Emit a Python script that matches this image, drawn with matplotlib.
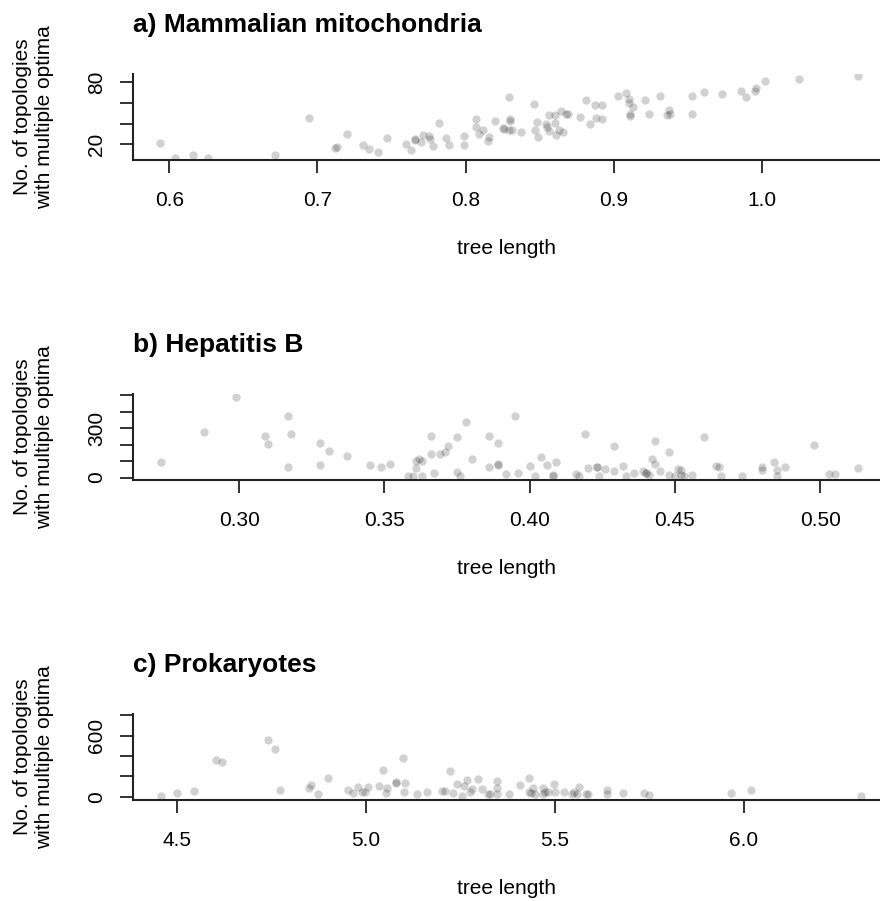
import numpy as np
import matplotlib
matplotlib.use('Agg')
import matplotlib.pyplot as plt

plt.rcParams['font.family'] = ['Liberation Sans', 'DejaVu Sans']

# tree length vs number of topologies with multiple optima ==========================
mito_len = [0.594, 0.604, 0.616, 0.626, 0.671, 0.694, 0.712, 0.713, 0.720, 0.731,
            0.735, 0.741, 0.747, 0.760, 0.763, 0.766, 0.766, 0.770, 0.771, 0.775,
            0.776, 0.778, 0.782, 0.787, 0.789, 0.799, 0.799, 0.807, 0.807, 0.809,
            0.812, 0.815, 0.816, 0.820, 0.825, 0.826, 0.829, 0.830, 0.830, 0.831,
            0.829, 0.837, 0.846, 0.848, 0.847, 0.849, 0.854, 0.855, 0.856, 0.856,
            0.860, 0.860, 0.861, 0.863, 0.864, 0.866, 0.868, 0.869, 0.877, 0.881,
            0.884, 0.887, 0.888, 0.892, 0.892, 0.903, 0.908, 0.910, 0.910, 0.913,
            0.911, 0.911, 0.921, 0.924, 0.931, 0.936, 0.937, 0.938, 0.953, 0.953,
            0.961, 0.973, 0.986, 0.989, 0.995, 0.996, 1.002, 1.025, 1.065]
mito_topo = [21, 7, 10, 7, 10, 45, 16, 17, 30, 19,
             15, 13, 26, 20, 14, 24, 25, 22, 29, 28,
             25, 18, 41, 26, 19, 28, 19, 44, 37, 30,
             34, 23, 27, 43, 36, 35, 66, 44, 43, 34,
             34, 32, 59, 42, 34, 27, 40, 37, 33, 48,
             41, 48, 29, 34, 52, 32, 49, 49, 46, 63,
             40, 58, 45, 58, 44, 67, 70, 64, 60, 56,
             49, 47, 63, 49, 67, 48, 53, 49, 49, 67,
             71, 69, 72, 66, 72, 74, 81, 83, 86]

hepb_len = [0.273, 0.288, 0.299, 0.309, 0.310, 0.317, 0.318, 0.317, 0.328, 0.328,
            0.331, 0.337, 0.345, 0.349, 0.352, 0.358, 0.360, 0.361, 0.361, 0.362,
            0.363, 0.363, 0.366, 0.366, 0.367, 0.369, 0.371, 0.372, 0.375, 0.375,
            0.376, 0.378, 0.380, 0.386, 0.386, 0.389, 0.389, 0.389, 0.392, 0.395,
            0.396, 0.400, 0.402, 0.404, 0.406, 0.408, 0.408, 0.409, 0.416, 0.417,
            0.419, 0.420, 0.423, 0.423, 0.424, 0.426, 0.429, 0.429, 0.432, 0.433,
            0.436, 0.439, 0.440, 0.440, 0.441, 0.442, 0.443, 0.443, 0.445, 0.448,
            0.448, 0.450, 0.451, 0.452, 0.453, 0.452, 0.456, 0.460, 0.464, 0.465,
            0.466, 0.473, 0.480, 0.480, 0.484, 0.485, 0.485, 0.488, 0.498, 0.503,
            0.505, 0.513]
hepb_topo = [94, 275, 488, 253, 205, 376, 263, 66, 211, 76,
             163, 129, 78, 66, 82, 8, 12, 56, 100, 116,
             100, 8, 255, 141, 30, 145, 155, 193, 247, 34,
             8, 339, 114, 255, 66, 209, 82, 78, 22, 375,
             28, 72, 10, 127, 76, 12, 14, 94, 24, 12,
             267, 60, 66, 64, 12, 52, 38, 191, 72, 12,
             26, 38, 26, 28, 18, 112, 80, 225, 42, 14,
             155, 10, 52, 48, 12, 18, 18, 245, 70, 64,
             12, 12, 62, 48, 92, 46, 12, 66, 197, 22,
             20, 60]

prok_len = [4.458, 4.501, 4.545, 4.603, 4.618, 4.740, 4.758, 4.773, 4.849, 4.855,
            4.872, 4.899, 4.953, 4.966, 4.978, 4.990, 4.996, 5.004, 5.035, 5.044,
            5.053, 5.055, 5.078, 5.079, 5.097, 5.103, 5.101, 5.134, 5.161, 5.201,
            5.209, 5.222, 5.229, 5.240, 5.253, 5.258, 5.268, 5.275, 5.280, 5.295,
            5.306, 5.324, 5.328, 5.346, 5.346, 5.346, 5.378, 5.407, 5.430, 5.430,
            5.436, 5.443, 5.447, 5.467, 5.469, 5.474, 5.482, 5.497, 5.500, 5.525,
            5.544, 5.550, 5.563, 5.557, 5.583, 5.587, 5.637, 5.637, 5.681, 5.736,
            5.749, 5.966, 6.019, 6.310]
prok_topo = [10, 39, 61, 361, 345, 561, 471, 65, 87, 119,
             29, 184, 68, 42, 100, 45, 45, 100, 106, 265,
             42, 84, 142, 132, 377, 132, 45, 23, 45, 61,
             61, 258, 42, 129, 6, 103, 165, 45, 81, 177,
             81, 29, 29, 152, 84, 29, 26, 116, 181, 52,
             39, 84, 29, 87, 29, 45, 52, 126, 45, 52,
             29, 52, 100, 29, 29, 29, 68, 23, 39, 39,
             19, 42, 71, 6]

panels = [
    dict(title='a) Mammalian mitochondria', x=mito_len, y=mito_topo,
         xlim=(0.5755, 1.0789), ylim=(4.8, 88),
         xticks=[0.6, 0.7, 0.8, 0.9, 1.0], xlabels=['0.6', '0.7', '0.8', '0.9', '1.0'],
         yticks=[20, 40, 60, 80], ylabels=['20', '', '', '80'], top=74),
    dict(title='b) Hepatitis B', x=hepb_len, y=hepb_topo,
         xlim=(0.2635, 0.5202), ylim=(-15, 509),
         xticks=[0.30, 0.35, 0.40, 0.45, 0.50], xlabels=['0.30', '0.35', '0.40', '0.45', '0.50'],
         yticks=[0, 100, 200, 300, 400, 500], ylabels=['0', '', '', '300', '', ''], top=394),
    dict(title='c) Prokaryotes', x=prok_len, y=prok_topo,
         xlim=(4.3836, 6.357), ylim=(-31, 812),
         xticks=[4.5, 5.0, 5.5, 6.0], xlabels=['4.5', '5.0', '5.5', '6.0'],
         yticks=[0, 200, 400, 600, 800], ylabels=['0', '', '', '600', ''], top=714),
]

W, H = 880, 901
fig = plt.figure(figsize=(W / 100, H / 100), dpi=100)

axis_col = '#222222'
for p in panels:
    left, right, height = 133, 879, 86
    ax = fig.add_axes([left / W, 1 - (p['top'] + height) / H, (right - left) / W, height / H])
    # semi-transparent grey dots, overlaps come out darker
    ax.scatter(p['x'], p['y'], s=36, color='black', alpha=0.18, linewidths=0)
    ax.set_xlim(p['xlim'])
    ax.set_ylim(p['ylim'])

    for side in ['top', 'right']:
        ax.spines[side].set_visible(False)
    for side in ['left', 'bottom']:
        ax.spines[side].set_linewidth(1.5)
        ax.spines[side].set_color(axis_col)

    ax.set_xticks(p['xticks'], p['xlabels'])
    ax.set_yticks(p['yticks'], p['ylabels'], rotation=90, va='center')
    ax.tick_params(axis='x', length=9.5, width=1.3, color=axis_col, labelsize=15, pad=13)
    ax.tick_params(axis='y', length=9.5, width=1.3, color=axis_col, labelsize=15, pad=10)

    ax.set_title(p['title'], loc='left', fontsize=19, fontweight='bold', pad=30)
    ax.set_xlabel('tree length', fontsize=15, va='center')
    ax.xaxis.set_label_coords(0.5, -88 / height)
    ax.set_ylabel('No. of topologies\nwith multiple optima', fontsize=15,
                  va='center', ha='center', linespacing=1.2)
    ax.yaxis.set_label_coords(-(left - 34) / (right - left), 0.5)

fig.savefig('out.png', dpi=100)
